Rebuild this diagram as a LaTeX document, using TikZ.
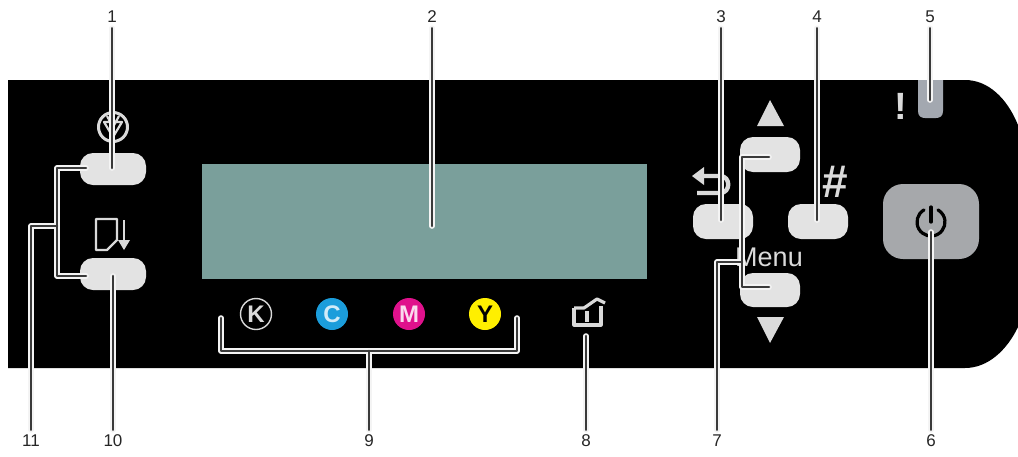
\documentclass[tikz,border=0pt]{standalone}
\usepackage{fontspec}
\setmainfont{Liberation Sans}
\definecolor{keygray}{HTML}{E3E3E3}
\definecolor{icongray}{HTML}{DADADA}
\definecolor{lcd}{HTML}{7A9F9B}
\definecolor{powergray}{HTML}{A6A8AB}
\definecolor{ledgray}{HTML}{A3A8B0}
\definecolor{corecol}{HTML}{3A3A3A}
\definecolor{halocol}{HTML}{F4F4F4}
\definecolor{inkC}{HTML}{1B9DDB}
\definecolor{inkM}{HTML}{E0118C}
\definecolor{inkY}{HTML}{FFEF00}
\tikzset{
  x=1pt,y=-1pt,
  keybtn/.style={draw=none,fill=keygray,rounded corners=13pt,minimum width=64pt,minimum height=34pt,inner sep=0pt},
  num/.style={font=\fontsize{17}{17}\selectfont,text=black!85,inner sep=0pt,minimum height=22pt},
  leader/.style={draw=corecol,line width=2.6pt,line join=round,line cap=round,
    preaction={draw=halocol,line width=5.6pt,line join=round,line cap=round}},
  icon/.style={draw=icongray,line width=3pt,line join=round},
  ink/.style={circle,minimum size=32pt,inner sep=0pt,font=\bfseries\fontsize{24}{24}\selectfont},
}
\begin{document}
\begin{tikzpicture}
\useasboundingbox (0,0) rectangle (1018,456);
\fill[white] (0,0) rectangle (1018,456);
% panel
\fill[black] (8,80) -- (965,80) .. controls (988,80) and (1007,98) .. (1018,125)
  -- (1018,327) .. controls (1007,350) and (988,368) .. (965,368) -- (8,368) -- cycle;
% display, keys
\node[fill=lcd,minimum width=445pt,minimum height=115pt,inner sep=0pt] (lcdpanel) at (424.5,221.5) {};
\node[keybtn,minimum width=66pt,minimum height=32pt] (b1) at (113,169) {};
\node[keybtn,minimum width=66pt,minimum height=32pt] (b10) at (113,274) {};
\node[keybtn,minimum width=60pt,minimum height=35pt] (bback) at (723,221.5) {};
\node[keybtn,minimum width=60pt,minimum height=35pt] (bhash) at (818,221.5) {};
\node[keybtn,minimum width=60pt,minimum height=35pt] (bup) at (770,154.5) {};
\node[keybtn,minimum width=60pt,minimum height=34pt] (bdown) at (770,290) {};
\node[fill=powergray,rounded corners=20pt,minimum width=96pt,minimum height=75pt,inner sep=0pt] (bpower) at (931,221.5) {};
\fill[ledgray] (918,80) -- (943,80) -- (943,111) .. controls (943,116) and (940,118) .. (936,118)
  -- (925,118) .. controls (921,118) and (918,116) .. (918,111) -- cycle;
\coordinate (led) at (930,100);
% triangles
\fill[icongray] (770,100) -- (784,126) -- (757,126) -- cycle;
\fill[icongray] (770,343) -- (784,317) -- (757,317) -- cycle;
% icon 1
\draw[icon] (113,127) circle[radius=14.5pt];
\draw[icon,line width=2.2pt] (104,122) -- (122,122) -- (113,137) -- cycle (107,116) -- (113,127) -- (119,116);
% paper and arrow
\draw[icon,line width=2.4pt] (96,219) -- (117,219) -- (117,240) -- (107,250) -- (96,250) -- cycle;
\draw[icon,line width=2.8pt] (124,220) -- (124,242);
\fill[icongray] (118,240) -- (130,240) -- (124,250) -- cycle;
% return arrow
\fill[icongray] (692,176) -- (704,167) -- (704,185) -- cycle;
\draw[icon,line width=4.4pt] (702,176) -- (720,176) .. controls (731,176) and (731,193) .. (720,193) -- (697,193);
% texts on panel
\node[inner sep=0pt,text=icongray,font=\bfseries\fontsize{46}{46}\selectfont] (hash) at (835,182) {\#};
\node[inner sep=0pt,text=icongray,font=\fontsize{27}{27}\selectfont] (menu) at (769,257) {Menu};
\node[inner sep=0pt,text=icongray,font=\bfseries\fontsize{38}{38}\selectfont] (excl) at (901,106) {!};
% ink marks
\node[ink,draw=icongray,line width=1.4pt,text=icongray,minimum size=31pt] (K) at (256,314) {K};
\node[ink,fill=inkC,text=white!80!inkC] (C) at (332,314) {C};
\node[ink,fill=inkM,text=white!85!inkM] (M) at (409,314) {M};
\node[ink,fill=inkY,text=black] (Y) at (485,314) {Y};
% house
\draw[icon,line width=3.2pt] (574,308) -- (574,325) -- (601,325) -- (601,306);
\draw[icon,line width=3.2pt] (574,308) -- (584,308) -- (597,299) -- (605,303);
\draw[icon,line width=3.2pt] (587,311) -- (587,322);
% power symbol
\draw[black,line width=3.2pt,line cap=round] (924,209.9) arc[start angle=120,end angle=420,radius=14pt];
\draw[black,line width=3.2pt,line cap=round] (931,207) -- (931,222);
% numbers
\node[num] (n1) at (112,17) {1};
\node[num] (n2) at (432,17) {2};
\node[num] (n3) at (721,17) {3};
\node[num] (n4) at (817,17) {4};
\node[num] (n5) at (930,17) {5};
\node[num] (n6) at (931,441) {6};
\node[num] (n7) at (717,441) {7};
\node[num] (n8) at (586,441) {8};
\node[num] (n9) at (369,441) {9};
\node[num] (n10) at (113,441) {10};
\node[num] (n11) at (31,441) {11};
% leader end points
\coordinate (e2) at (432,226);
\coordinate (e3) at (721,220);
\coordinate (e4) at (817,220);
\coordinate (e6) at (931,232);
\coordinate (e8) at (586,336);
\coordinate (e9) at (369,351);
\coordinate (e1) at (112,168);
\coordinate (e10) at (113,276);
\coordinate (k1) at (86,168);
\coordinate (k10) at (86,276);
\coordinate (tj) at (57,226);
\coordinate (bk1) at (221,318);
\coordinate (bk2) at (517,318);
\coordinate (up) at (769,157);
\coordinate (dn) at (769,287);
\coordinate (mj) at (742,262);
% leaders
\draw[leader] (n1.south) -- (e1);
\draw[leader] (n2.south) -- (e2);
\draw[leader] (n3.south) -- (e3);
\draw[leader] (n4.south) -- (e4);
\draw[leader] (n5.south) -- (led);
\draw[leader] (n6.north) -- (e6);
\draw[leader] (n8.north) -- (e8);
\draw[leader] (n10.north) -- (e10);
\draw[leader] (n9.north) -- (e9) (bk1) |- (e9) -| (bk2);
\draw[leader] (n7.north) |- (mj) (up) -| (mj) |- (dn);
\draw[leader] (n11.north) |- (tj) (k1) -| (tj) |- (k10);
\end{tikzpicture}
\end{document}
